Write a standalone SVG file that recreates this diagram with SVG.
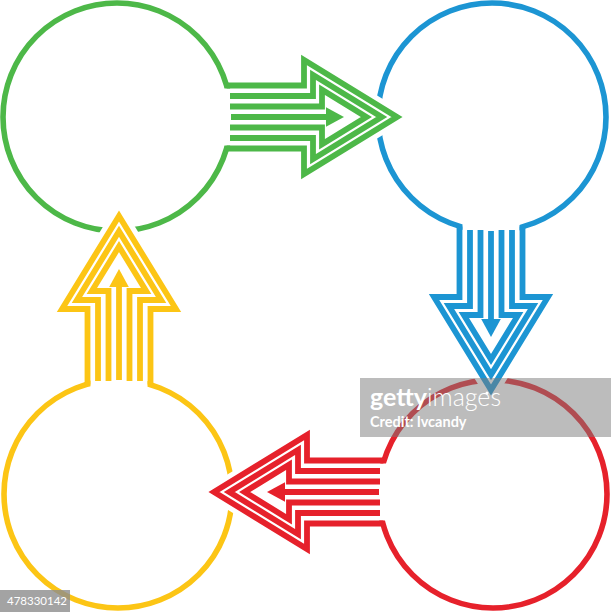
<svg xmlns="http://www.w3.org/2000/svg" width="611" height="612" viewBox="0 0 611 612">
<style>
.ring{fill:none;stroke-width:5.6}
.arr path{fill:none;stroke:currentColor;stroke-width:5.8;stroke-linejoin:miter;stroke-miterlimit:6}
.arr .tri{fill:currentColor;stroke:none}
.halo{fill:#fff;stroke:#fff;stroke-width:16;stroke-linejoin:round}
.cut{fill:#fff;stroke:none}
.green{color:#4db848}
.blue{color:#1c95d3}
.red{color:#e6212b}
.yellow{color:#fcc515}
.ring.green{stroke:#4db848}
.ring.blue{stroke:#1c95d3}
.ring.red{stroke:#e6212b}
.ring.yellow{stroke:#fcc515}
.wm{font-family:Lato,"Open Sans","Liberation Sans",sans-serif;fill:#fff}
</style>
<rect width="611" height="612" fill="#fff"/>
<g id="node-green"><circle class="ring green" cx="117" cy="117" r="114"/></g>
<g id="node-blue"><circle class="ring blue" cx="492" cy="117" r="114"/></g>
<g id="node-red"><circle class="ring red" cx="493" cy="494" r="114"/></g>
<g id="node-yellow"><circle class="ring yellow" cx="118" cy="494" r="114"/></g>
<g id="connectors">
  <g id="arrow-green" class="arr green" transform="translate(397,117)">
    <polygon class="halo" points="-93,-57 0,0 -93,57"/>
    <rect class="cut" x="-174" y="-28.5" width="11" height="57"/>
    <path d="M-170.4,-31.5H-93V-57L0,0L-93,57V31.5H-170.4"/>
    <path d="M-167,-21H-84V-42.1L-15.3,0L-84,42.1V21H-167"/>
    <path d="M-167,-10.5H-75V-27.2L-30.6,0L-75,27.2V10.5H-167"/>
    <path d="M-166,0H-70"/>
    <polygon class="tri" points="-71,-9.8 -53,0 -71,9.8"/>
  </g>
  <g id="arrow-blue" class="arr blue" transform="translate(491,390) rotate(90)">
    <polygon class="halo" points="-93,-57 0,0 -93,57"/>
    <rect class="cut" x="-167" y="-28.5" width="11" height="57"/>
    <path d="M-163.4,-31.5H-93V-57L0,0L-93,57V31.5H-163.4"/>
    <path d="M-160,-21H-84V-42.1L-15.3,0L-84,42.1V21H-160"/>
    <path d="M-160,-10.5H-75V-27.2L-30.6,0L-75,27.2V10.5H-160"/>
    <path d="M-159,0H-70"/>
    <polygon class="tri" points="-71,-9.8 -53,0 -71,9.8"/>
  </g>
  <g id="arrow-red" class="arr red" transform="translate(214,492) rotate(180)">
    <polygon class="halo" points="-93,-57 0,0 -93,57"/>
    <rect class="cut" x="-173" y="-28.5" width="11" height="57"/>
    <path d="M-169.4,-31.5H-93V-57L0,0L-93,57V31.5H-169.4"/>
    <path d="M-166,-21H-84V-42.1L-15.3,0L-84,42.1V21H-166"/>
    <path d="M-166,-10.5H-75V-27.2L-30.6,0L-75,27.2V10.5H-166"/>
    <path d="M-165,0H-70"/>
    <polygon class="tri" points="-71,-9.8 -53,0 -71,9.8"/>
  </g>
  <g id="arrow-yellow" class="arr yellow" transform="translate(119,216) rotate(-90)">
    <polygon class="halo" points="-93,-57 0,0 -93,57"/>
    <rect class="cut" x="-172" y="-28.5" width="11" height="57"/>
    <path d="M-168.4,-31.5H-93V-57L0,0L-93,57V31.5H-168.4"/>
    <path d="M-165,-21H-84V-42.1L-15.3,0L-84,42.1V21H-165"/>
    <path d="M-165,-10.5H-75V-27.2L-30.6,0L-75,27.2V10.5H-165"/>
    <path d="M-164,0H-70"/>
    <polygon class="tri" points="-71,-9.8 -53,0 -71,9.8"/>
  </g>
</g>
<g id="watermark">
  <rect x="360" y="378" width="251" height="59" fill="#7a7a7a" opacity="0.5"/>
  <text class="wm" x="370" y="406" font-size="25"><tspan font-weight="700">getty</tspan><tspan font-weight="300">images</tspan></text>
  <circle cx="487" cy="393" r="1.5" fill="#fff"/>
  <text class="wm" x="370" y="427" font-size="14.5" font-weight="700">Credit: lvcandy</text>
  <rect x="0" y="590" width="70" height="22" fill="#8c8c8c" opacity="0.8"/>
  <text class="wm" x="7" y="605" font-size="11.5">478330142</text>
</g>
</svg>
